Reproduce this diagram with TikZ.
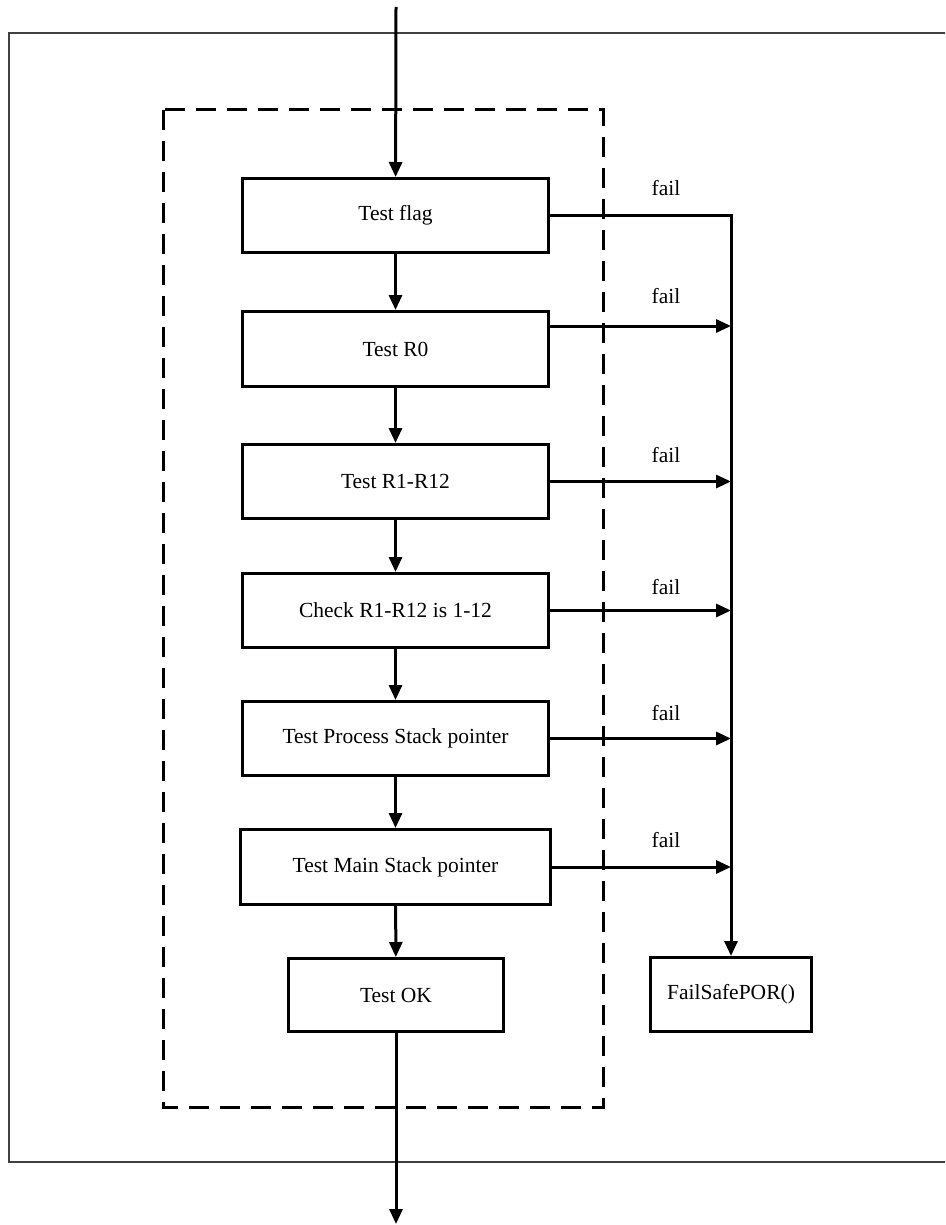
\documentclass[tikz,border=0pt]{standalone}
\usepackage{fontspec}
\setmainfont{Liberation Serif}
\usetikzlibrary{arrows.meta,calc}
\tikzset{
  box/.style={draw, line width=3pt, inner sep=0pt, align=center, font=\fontsize{21.5}{26}\selectfont},
  arr/.style={line width=3pt, -{Triangle[length=15pt,width=13pt]}},
  lbl/.style={font=\fontsize{21.5}{26}\selectfont, inner sep=0pt},
  frame/.style={draw=black!75, line width=1.6pt},
  group/.style={draw, line width=3pt, dash pattern=on 20pt off 11pt}
}
\begin{document}
\begin{tikzpicture}[x=1pt,y=-1pt]
\useasboundingbox (0,0) rectangle (945,1225);
\clip (0,0) rectangle (945,1225);
\fill[white] (0,0) rectangle (945,1225);
\draw[frame] (9,33) rectangle (980,1162);
\draw[group] (163,110) rectangle (603,1107);

\node[box, minimum width=306pt, minimum height=74pt] (flag) at (395.5,215.5) {Test flag};
\node[box, minimum width=306pt, minimum height=75pt] (r0) at (395.5,349) {Test R0};
\node[box, minimum width=306pt, minimum height=74pt] (r112) at (395.5,481.5) {Test R1-R12};
\node[box, minimum width=306pt, minimum height=74pt] (chk) at (395.5,610.5) {Check R1-R12 is 1-12};
\node[box, minimum width=306pt, minimum height=74pt] (proc) at (395.5,738.5) {Test Process Stack pointer};
\node[box, minimum width=310pt, minimum height=75pt] (main) at (395.5,867) {Test Main Stack pointer};
\node[box, minimum width=215pt, minimum height=73pt] (ok) at (396,995) {Test OK};
\node[box, minimum width=161pt, minimum height=74pt] (fsp) at (731,994.5) {FailSafePOR()};

\coordinate (in) at (396,7);
\coordinate (out) at (396,1224);
\coordinate (bus) at (731,215.5);
\coordinate (y326) at (0,326);

\draw[arr] (in) -- (flag);
\draw[arr] (flag) -- (r0);
\draw[arr] (r0) -- (r112);
\draw[arr] (r112) -- (chk);
\draw[arr] (chk) -- (proc);
\draw[arr] (proc) -- (main);
\draw[arr] (main) -- (ok);
\draw[arr] (ok) -- (out);

\draw[arr] (flag.east) -- (bus) -- (fsp.north);
\draw[arr] (r0.east |- y326) -- (bus |- y326);
\draw[arr] (r112.east) -- (bus |- r112.east);
\draw[arr] (chk.east) -- (bus |- chk.east);
\draw[arr] (proc.east) -- (bus |- proc.east);
\draw[arr] (main.east) -- (bus |- main.east);

\node[lbl] (f1) at (666,188) {fail};
\node[lbl] (f2) at (666,296) {fail};
\node[lbl] (f3) at (666,455) {fail};
\node[lbl] (f4) at (666,587) {fail};
\node[lbl] (f5) at (666,713) {fail};
\node[lbl] (f6) at (666,840) {fail};
\end{tikzpicture}
\end{document}
